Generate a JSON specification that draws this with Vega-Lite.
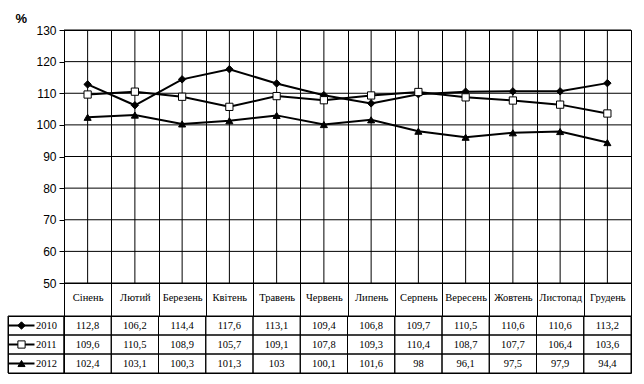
{
  "$schema": "https://vega.github.io/schema/vega-lite/v6.json",
  "autosize": {"type": "pad"},
  "padding": {"left": 7, "top": 11, "right": 5, "bottom": 5},
  "background": "white",
  "config": {
    "locale": {"number": {"decimal": ",", "thousands": " ", "grouping": [3], "currency": ["", ""]}},
    "view": {"stroke": "black", "strokeWidth": 1},
    "axis": {"domainColor": "black", "tickColor": "black", "gridColor": "black", "gridOpacity": 1, "labelColor": "black", "titleColor": "black", "domainWidth": 1, "tickWidth": 1, "gridWidth": 1},
    "axisY": {"labelOverlap": false}
  },
  "datasets": {
    "series": [
      {"month": "Сінень", "year": "2010", "value": 112.8},
      {"month": "Лютий", "year": "2010", "value": 106.2},
      {"month": "Березень", "year": "2010", "value": 114.4},
      {"month": "Квітень", "year": "2010", "value": 117.6},
      {"month": "Травень", "year": "2010", "value": 113.1},
      {"month": "Червень", "year": "2010", "value": 109.4},
      {"month": "Липень", "year": "2010", "value": 106.8},
      {"month": "Серпень", "year": "2010", "value": 109.7},
      {"month": "Вересень", "year": "2010", "value": 110.5},
      {"month": "Жовтень", "year": "2010", "value": 110.6},
      {"month": "Листопад", "year": "2010", "value": 110.6},
      {"month": "Грудень", "year": "2010", "value": 113.2},
      {"month": "Сінень", "year": "2011", "value": 109.6},
      {"month": "Лютий", "year": "2011", "value": 110.5},
      {"month": "Березень", "year": "2011", "value": 108.9},
      {"month": "Квітень", "year": "2011", "value": 105.7},
      {"month": "Травень", "year": "2011", "value": 109.1},
      {"month": "Червень", "year": "2011", "value": 107.8},
      {"month": "Липень", "year": "2011", "value": 109.3},
      {"month": "Серпень", "year": "2011", "value": 110.4},
      {"month": "Вересень", "year": "2011", "value": 108.7},
      {"month": "Жовтень", "year": "2011", "value": 107.7},
      {"month": "Листопад", "year": "2011", "value": 106.4},
      {"month": "Грудень", "year": "2011", "value": 103.6},
      {"month": "Сінень", "year": "2012", "value": 102.4},
      {"month": "Лютий", "year": "2012", "value": 103.1},
      {"month": "Березень", "year": "2012", "value": 100.3},
      {"month": "Квітень", "year": "2012", "value": 101.3},
      {"month": "Травень", "year": "2012", "value": 103},
      {"month": "Червень", "year": "2012", "value": 100.1},
      {"month": "Липень", "year": "2012", "value": 101.6},
      {"month": "Серпень", "year": "2012", "value": 98},
      {"month": "Вересень", "year": "2012", "value": 96.1},
      {"month": "Жовтень", "year": "2012", "value": 97.5},
      {"month": "Листопад", "year": "2012", "value": 97.9},
      {"month": "Грудень", "year": "2012", "value": 94.4}
    ],
    "months": [
      {"month": "Сінень"}, {"month": "Лютий"}, {"month": "Березень"}, {"month": "Квітень"},
      {"month": "Травень"}, {"month": "Червень"}, {"month": "Липень"}, {"month": "Серпень"},
      {"month": "Вересень"}, {"month": "Жовтень"}, {"month": "Листопад"}, {"month": "Грудень"}
    ],
    "gridY": [{"v": 50}, {"v": 60}, {"v": 70}, {"v": 80}, {"v": 90}, {"v": 100}, {"v": 110}, {"v": 120}, {"v": 130}],
    "years": [{"year": "2010"}, {"year": "2011"}, {"year": "2012"}]
  },
  "columns": 2,
  "spacing": {"row": 33, "column": 0},
  "bounds": "flush",
  "concat": [
    {
      "width": 56, "height": 253,
      "view": {"stroke": null},
      "data": {"values": []},
      "mark": {"type": "point", "opacity": 0},
      "encoding": {}
    },
    {
      "width": 567, "height": 253,
      "data": {"name": "series"},
      "layer": [
        {
          "data": {"name": "gridY"},
          "mark": {"type": "rule", "color": "black", "strokeWidth": 1},
          "encoding": {
            "y": {
              "field": "v", "type": "quantitative",
              "scale": {"domain": [50, 130], "nice": false, "zero": false},
              "axis": {"title": "%", "titleAngle": 0, "titleX": -49, "titleY": -8, "titleAlign": "left", "titleBaseline": "alphabetic", "titleFontSize": 13, "titleFontWeight": "bold", "titleFont": "Liberation Sans", "values": [50, 60, 70, 80, 90, 100, 110, 120, 130], "labelOverlap": false, "grid": false, "tickSize": 5, "labelFont": "Liberation Sans", "labelFontSize": 12, "labelPadding": 3}
            }
          }
        },
        {
          "data": {"name": "months"},
          "mark": {"type": "rule", "color": "black", "strokeWidth": 1},
          "encoding": {
            "x": {
              "field": "month", "type": "nominal",
              "scale": {"type": "band", "domain": ["Сінень", "Лютий", "Березень", "Квітень", "Травень", "Червень", "Липень", "Серпень", "Вересень", "Жовтень", "Листопад", "Грудень"], "paddingInner": 0, "paddingOuter": 0},
              "axis": {"title": null, "tickBand": "extent", "tickSize": 33, "grid": true, "labelFont": "Liberation Serif", "labelFontSize": 10.5, "labelBaseline": "middle", "labelPadding": -19, "labelAngle": 0, "domain": true, "labelOverlap": false}
            }
          }
        },
        {
          "mark": {"type": "line", "color": "black", "strokeWidth": 2},
          "encoding": {
            "x": {"field": "month", "type": "nominal"},
            "y": {
              "field": "value", "type": "quantitative",
              "scale": {"domain": [50, 130], "nice": false, "zero": false},
              "axis": {"title": "%", "titleAngle": 0, "titleX": -49, "titleY": -8, "titleAlign": "left", "titleBaseline": "alphabetic", "titleFontSize": 13, "titleFontWeight": "bold", "titleFont": "Liberation Sans", "values": [50, 60, 70, 80, 90, 100, 110, 120, 130], "labelOverlap": false, "grid": false, "tickSize": 5, "labelFont": "Liberation Sans", "labelFontSize": 12, "labelPadding": 3}
            },
            "detail": {"field": "year"}
          }
        },
        {
          "mark": {"type": "point", "filled": true, "stroke": "black", "strokeWidth": 1, "opacity": 1},
          "encoding": {
            "x": {"field": "month", "type": "nominal"},
            "y": {
              "field": "value", "type": "quantitative",
              "scale": {"domain": [50, 130], "nice": false, "zero": false},
              "axis": {"title": "%", "titleAngle": 0, "titleX": -49, "titleY": -8, "titleAlign": "left", "titleBaseline": "alphabetic", "titleFontSize": 13, "titleFontWeight": "bold", "titleFont": "Liberation Sans", "values": [50, 60, 70, 80, 90, 100, 110, 120, 130], "labelOverlap": false, "grid": false, "tickSize": 5, "labelFont": "Liberation Sans", "labelFontSize": 12, "labelPadding": 3}
            },
            "shape": {"field": "year", "type": "nominal", "scale": {"domain": ["2010", "2011", "2012"], "range": ["diamond", "square", "triangle-up"]}, "legend": null},
            "fill": {"field": "year", "type": "nominal", "scale": {"domain": ["2010", "2011", "2012"], "range": ["black", "white", "black"]}, "legend": null},
            "size": {"field": "year", "type": "ordinal", "scale": {"domain": ["2010", "2011", "2012"], "range": [55, 50, 70]}, "legend": null}
          }
        }
      ]
    },
    {
      "width": 56, "height": 57,
      "data": {"name": "years"},
      "encoding": {
        "y": {"field": "year", "type": "nominal", "scale": {"type": "band", "domain": ["2010", "2011", "2012"], "paddingInner": 0, "paddingOuter": 0}, "axis": null}
      },
      "layer": [
        {"mark": {"type": "rect", "filled": false, "stroke": "black", "strokeWidth": 1}},
        {"mark": {"type": "tick", "orient": "horizontal", "color": "black", "size": 26, "thickness": 2, "xOffset": -14.5, "opacity": 1}},
        {
          "mark": {"type": "point", "filled": true, "stroke": "black", "strokeWidth": 1, "opacity": 1, "xOffset": -14.5},
          "encoding": {
            "shape": {"field": "year", "type": "nominal", "scale": {"domain": ["2010", "2011", "2012"], "range": ["diamond", "square", "triangle-up"]}, "legend": null},
            "fill": {"field": "year", "type": "nominal", "scale": {"domain": ["2010", "2011", "2012"], "range": ["black", "white", "black"]}, "legend": null},
            "size": {"field": "year", "type": "ordinal", "scale": {"domain": ["2010", "2011", "2012"], "range": [55, 50, 70]}, "legend": null}
          }
        },
        {
          "mark": {"type": "text", "align": "left", "baseline": "middle", "font": "Liberation Serif", "fontSize": 10.5, "color": "black"},
          "encoding": {"text": {"field": "year", "type": "nominal"}}
        }
      ]
    },
    {
      "width": 567, "height": 57,
      "data": {"name": "series"},
      "encoding": {
        "x": {"field": "month", "type": "nominal", "scale": {"type": "band", "domain": ["Сінень", "Лютий", "Березень", "Квітень", "Травень", "Червень", "Липень", "Серпень", "Вересень", "Жовтень", "Листопад", "Грудень"], "paddingInner": 0, "paddingOuter": 0}, "axis": null},
        "y": {"field": "year", "type": "nominal", "scale": {"type": "band", "domain": ["2010", "2011", "2012"], "paddingInner": 0, "paddingOuter": 0}, "axis": null}
      },
      "layer": [
        {"mark": {"type": "rect", "filled": false, "stroke": "black", "strokeWidth": 1}},
        {
          "mark": {"type": "text", "font": "Liberation Serif", "fontSize": 10.5, "color": "black", "baseline": "middle", "align": "center"},
          "encoding": {"text": {"field": "value", "type": "quantitative", "format": "~g"}}
        }
      ]
    }
  ]
}
